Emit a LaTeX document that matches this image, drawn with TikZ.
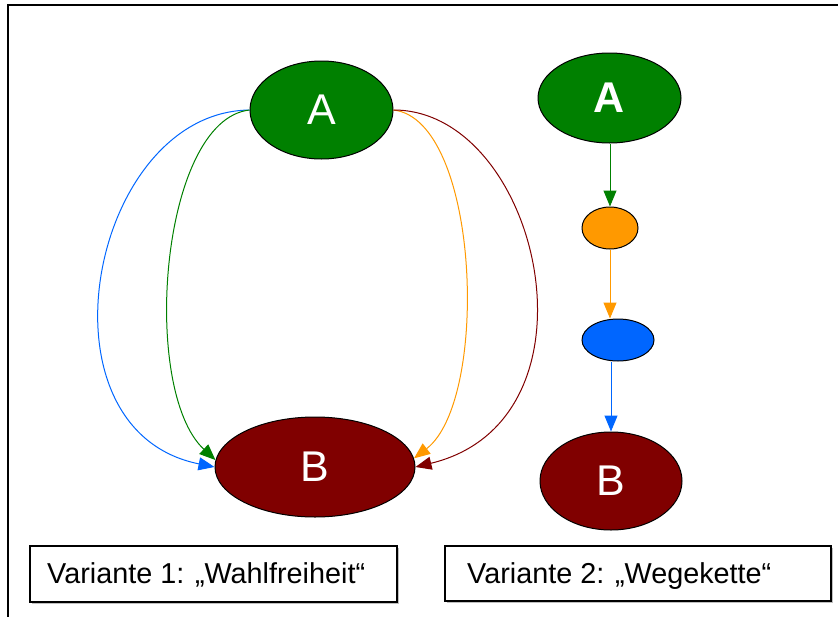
\documentclass[tikz,border=0pt]{standalone}
\usepackage{fontspec}
\setmainfont{Liberation Sans}
\usetikzlibrary{shapes.geometric,arrows.meta}
\definecolor{cgreen}{HTML}{008000}
\definecolor{corange}{HTML}{FF9900}
\definecolor{cblue}{HTML}{0066FF}
\definecolor{cred}{HTML}{800000}
\tikzset{
  oval/.style={ellipse, draw=black, line width=1pt, inner sep=0pt, text=white},
  big/.style={font=\fontsize{43}{50}\selectfont},
  conn/.style={line width=1pt, -{Triangle[length=16pt,width=13pt]}},
  labelbox/.style={draw=black, line width=1.5pt, minimum height=56pt, inner sep=0pt}
}
\begin{document}
\begin{tikzpicture}[x=1pt,y=-1pt]
\useasboundingbox (0,0) rectangle (838,616);
% outer frame
\draw[line width=2.5pt] (8,620) -- (8,5) -- (845,5);

% left variant
\node[oval, big, fill=cgreen, minimum width=143pt, minimum height=98pt] (Al) at (321.5,110) {A};
\node[oval, big, fill=cred, minimum width=200pt, minimum height=100pt] (Bl) at (315,467) {B};

\draw[conn, cblue] (Al.west) .. controls (90,112) and (30,430) .. (Bl.west);
\draw[conn, cgreen] (Al.west) .. controls (160,120) and (140,390) .. (Bl.176);
\draw[conn, corange] (Al.east) .. controls (480,120) and (490,400) .. (Bl.5);
\draw[conn, cred] (Al.east) .. controls (540,110) and (610,420) .. (Bl.east);

% right variant
\node[oval, big, fill=cgreen, minimum width=143pt, minimum height=90pt, font=\fontsize{43}{50}\selectfont\bfseries] (Ar) at (609.5,98) {A};
\node[oval, fill=corange, minimum width=56pt, minimum height=42pt] (Or) at (610,228) {};
\node[oval, fill=cblue, minimum width=72pt, minimum height=42pt] (Bu) at (618,340) {};
\node[oval, big, fill=cred, minimum width=142pt, minimum height=98pt] (Br) at (611,481) {B};

\draw[conn, cgreen] (Ar.south -| Or.north) -- (Or.north);
\draw[conn, corange] (Or.south) -- (Or.south |- Bu.north);
\draw[conn, cblue] (Bu.south -| Br.north) -- (Br.north);

% label boxes
\fill[gray!50] (32,548) rectangle (399,604);
\node[labelbox, fill=white, minimum width=367pt] (L1) at (213.5,574) {};
\node[anchor=base west, font=\fontsize{28.8}{34}\selectfont, inner sep=0pt] (T1) at (47,583) {Variante 1: „Wahlfreiheit“};
\fill[gray!50] (447,548) rectangle (833,603);
\node[labelbox, fill=white, minimum width=386pt, minimum height=55pt] (L2) at (638,573.5) {};
\node[anchor=base west, font=\fontsize{28.8}{34}\selectfont, inner sep=0pt] (T2) at (467,583) {Variante 2: „Wegekette“};
\end{tikzpicture}
\end{document}
